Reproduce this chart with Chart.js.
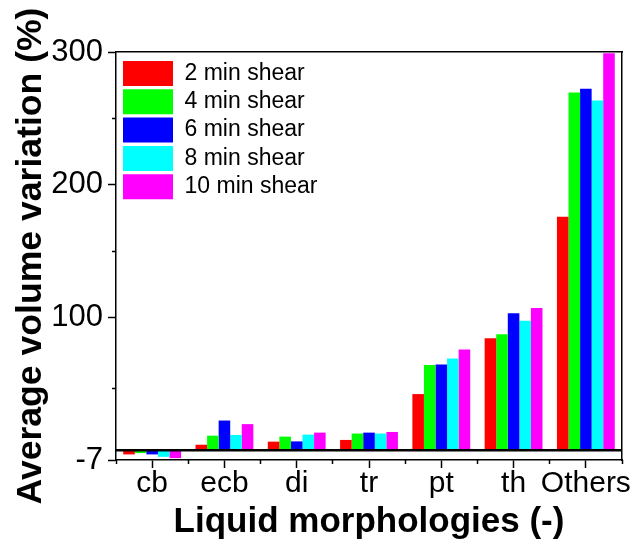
<!DOCTYPE html>
<html><head><meta charset="utf-8">
<style>html,body{margin:0;padding:0;background:#fff}canvas{display:block}</style>
<script src="https://cdn.jsdelivr.net/npm/chart.js@4"></script>
</head><body>
<canvas id="c" width="632" height="550"></canvas>
<script>
const categories = ['cb', 'ecb', 'di', 'tr', 'pt', 'th', 'Others'];
const seriesNames = ['2 min shear', '4 min shear', '6 min shear', '8 min shear', '10 min shear'];
const shear2  = [-2.8,  4.5,  6.8,  8.1, 42.6,  84.7, 176.0];
const shear4  = [-1.8, 11.3, 10.6, 12.9, 64.5,  87.7, 269.5];
const shear6  = [-2.8, 22.7,  7.0, 13.6, 64.8, 103.4, 272.3];
const shear8  = [-4.6, 11.8, 12.1, 12.9, 69.4,  97.8, 263.5];
const shear10 = [-5.6, 20.0, 13.6, 14.1, 76.2, 107.4, 299.0];
const seriesColors = ['#ff0000', '#00ff00', '#0000ff', '#00ffff', '#ff00ff'];
const yMajorTicks = [-7, 100, 200, 300];
const yMinorTicks = [46.5, 150, 250];
const yZero = 0;
const yMin = -7, yMax = 300;
const xTitle = 'Liquid morphologies (-)';
const yTitle = 'Average volume variation (%)';

const FONT = "'Liberation Sans', Arial, Helvetica, sans-serif";
Chart.defaults.font.family = FONT;
Chart.defaults.color = '#000';

const seriesData = [shear2, shear4, shear6, shear8, shear10];
const datasets = seriesData.map((d, i) => ({
  label: seriesNames[i],
  data: d,
  backgroundColor: seriesColors[i],
  borderWidth: 0,
  barPercentage: 1.0,
  categoryPercentage: 0.8,
  xAxisID: 'x',
  yAxisID: 'y'
}));

const legendMover = {
  id: 'legendMover',
  afterLayout(chart) {
    const lg = chart.legend;
    if (!lg) return;
    const pad = lg.options.labels.padding;
    const w = lg.width, h = lg.height;
    lg.left = chart.chartArea.left + 7 - pad;
    lg.top = chart.chartArea.top + 9 - pad;
    lg.right = lg.left + w;
    lg.bottom = lg.top + h;
  }
};

const isZero = (ctx) => ctx.tick && ctx.tick.value === yZero;

new Chart(document.getElementById('c'), {
  type: 'bar',
  data: { labels: categories, datasets },
  plugins: [legendMover],
  options: {
    responsive: false,
    devicePixelRatio: 1,
    animation: false,
    layout: { padding: { left: 0, top: 52, right: 10, bottom: 0 } },
    plugins: {
      tooltip: { enabled: false },
      legend: {
        position: 'chartArea',
        align: 'start',
        labels: {
          boxWidth: 50,
          boxHeight: 25,
          padding: 3.3,
          color: '#000',
          font: { size: 23, family: FONT }
        }
      }
    },
    scales: {
      x: {
        type: 'category',
        position: 'bottom',
        offset: true,
        grid: { offset: false, drawOnChartArea: false, tickLength: 8, tickWidth: 1.5, tickColor: '#000' },
        border: { display: true, color: '#000', width: 1.5 },
        ticks: { color: '#000', font: { size: 30, family: FONT }, padding: -2, maxRotation: 0, autoSkip: false },
        title: { display: true, text: xTitle, color: '#000', font: { size: 35, weight: 'bold', family: FONT }, padding: { top: 0, bottom: 7 } },
        afterFit(s) { s.height = 90; }
      },
      xMinor: {
        type: 'category',
        axis: 'x',
        position: { y: yMin },
        offset: true,
        grid: { offset: true, drawOnChartArea: false, tickLength: 4, tickWidth: 1.5, tickColor: '#000' },
        border: { display: false },
        ticks: { display: false }
      },
      xTop: {
        type: 'category',
        axis: 'x',
        position: 'top',
        offset: true,
        grid: { drawOnChartArea: false, drawTicks: false },
        border: { display: true, color: '#000', width: 1.5 },
        ticks: { display: false }
      },
      y: {
        type: 'linear',
        position: 'left',
        min: yMin,
        max: yMax,
        afterBuildTicks(s) { s.ticks = yMajorTicks.map(v => ({ value: v })); },
        grid: { drawOnChartArea: false, tickLength: 8, tickWidth: 1.5, tickColor: '#000' },
        border: { display: true, color: '#000', width: 1.5 },
        ticks: { color: '#000', font: { size: 31, family: FONT }, padding: 5, callback: (v) => String(v) },
        title: { display: true, text: yTitle, color: '#000', font: { size: 35.6, weight: 'bold', family: FONT }, padding: { top: 10, bottom: 0 } },
        afterFit(s) { s.width = 116; }
      },
      yMinor: {
        type: 'linear',
        axis: 'y',
        position: { x: -0.5 },
        min: yMin,
        max: yMax,
        afterBuildTicks(s) { s.ticks = [yZero].concat(yMinorTicks).map(v => ({ value: v })); },
        grid: {
          z: 1,
          drawOnChartArea: true,
          color: (ctx) => isZero(ctx) ? '#000' : 'rgba(0,0,0,0)',
          lineWidth: (ctx) => isZero(ctx) ? 2.5 : 1,
          tickColor: (ctx) => isZero(ctx) ? 'rgba(0,0,0,0)' : '#000',
          tickLength: 4,
          tickWidth: 1.5
        },
        border: { display: false },
        ticks: { display: false }
      },
      yRight: {
        type: 'linear',
        axis: 'y',
        position: 'right',
        min: yMin,
        max: yMax,
        grid: { drawOnChartArea: false, drawTicks: false },
        border: { display: true, color: '#000', width: 1.5 },
        ticks: { display: false }
      }
    }
  }
});
</script>
</body></html>
